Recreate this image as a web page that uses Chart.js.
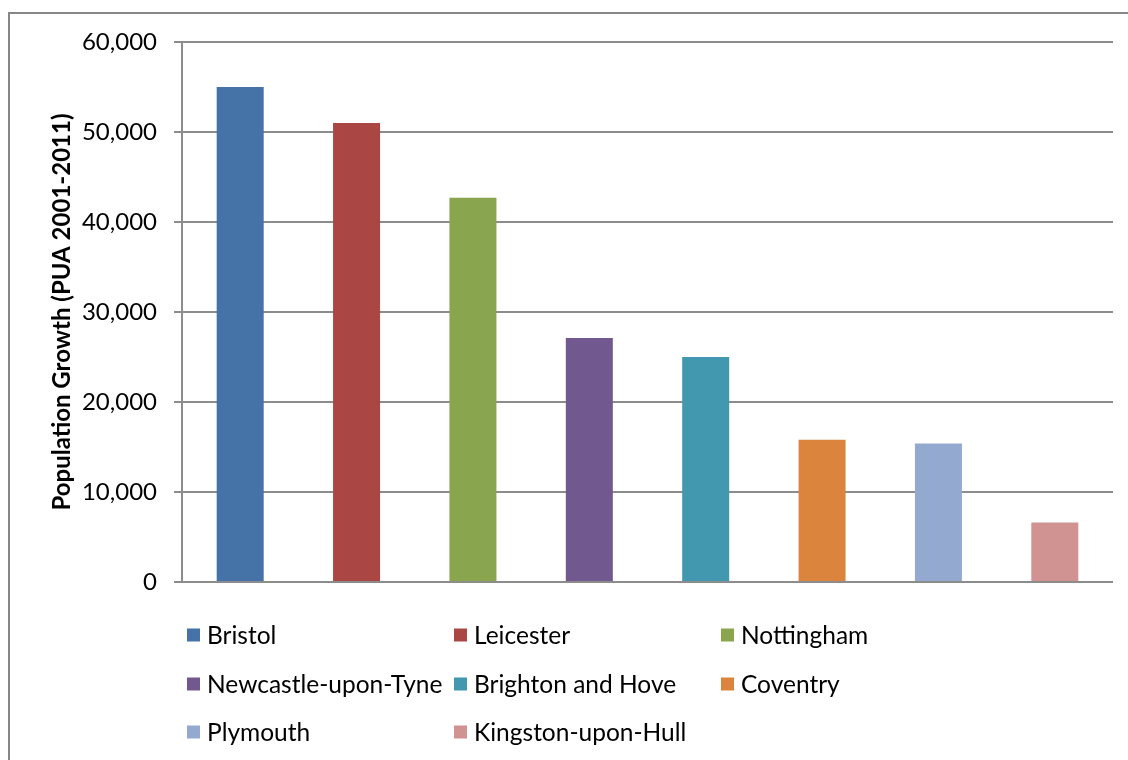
<!DOCTYPE html>
<html>
<head>
<meta charset="utf-8">
<title>Population Growth (PUA 2001-2011)</title>
<script src="https://cdn.jsdelivr.net/npm/chart.js@4/dist/chart.umd.min.js"></script>
<style>
  html, body { margin: 0; padding: 0; background: #ffffff; }
  #wrap { width: 1128px; height: 760px; }
</style>
</head>
<body>
<div id="wrap"><canvas id="chart" width="1128" height="760"></canvas></div>
<script>
// Cities, in the order they appear along the axis and in the legend
const cities = [
  'Bristol', 'Leicester', 'Nottingham',
  'Newcastle-upon-Tyne', 'Brighton and Hove', 'Coventry',
  'Plymouth', 'Kingston-upon-Hull'
];

// Population growth of each primary urban area, 2001-2011
const growth = [55000, 51000, 42700, 27100, 25000, 15800, 15400, 6600];

// One fill per city
const barColors = [
  '#4572A7', '#AA4643', '#89A54E',
  '#71588F', '#4198AF', '#DB843D',
  '#93A9CF', '#D19392'
];

// Value axis ticks
const yTicks = [0, 10000, 20000, 30000, 40000, 50000, 60000];

const axisTitle = 'Population Growth (PUA 2001-2011)';

const FONT = 'Lato';
const GRID = '#8c8c8c';

// White page with the outer frame of the chart object
const framePlugin = {
  id: 'frame',
  beforeDraw(chart) {
    const ctx = chart.ctx;
    ctx.save();
    ctx.fillStyle = '#ffffff';
    ctx.fillRect(0, 0, chart.width, chart.height);
    ctx.strokeStyle = '#878787';
    ctx.lineWidth = 2;
    ctx.strokeRect(9, 13, chart.width + 40, chart.height + 40);
    ctx.restore();
  }
};

// Legend laid out as a three-column grid below the plot
const gridLegendPlugin = {
  id: 'gridLegend',
  afterDraw(chart) {
    const ctx = chart.ctx;
    const labels = chart.data.labels;
    const colors = chart.data.datasets[0].backgroundColor;
    const cols = 3;
    const colX = [187, 454, 721];
    const rowY = [635, 684, 732];
    const box = 13;
    ctx.save();
    ctx.font = '24.5px ' + FONT;
    ctx.textBaseline = 'middle';
    ctx.textAlign = 'left';
    labels.forEach((label, i) => {
      const x = colX[i % cols];
      const y = rowY[Math.floor(i / cols)];
      ctx.fillStyle = colors[i];
      ctx.fillRect(x, y - box / 2, box, box);
      ctx.fillStyle = '#000000';
      ctx.fillText(label, x + 20, y + 1);
    });
    ctx.restore();
  }
};

new Chart(document.getElementById('chart'), {
  type: 'bar',
  data: {
    labels: cities,
    datasets: [{
      label: axisTitle,
      data: growth,
      backgroundColor: barColors,
      borderWidth: 0,
      barPercentage: 0.404,
      categoryPercentage: 1.0
    }]
  },
  options: {
    responsive: false,
    animation: false,
    devicePixelRatio: 1,
    layout: { padding: { top: 42, right: 15, left: 0, bottom: 0 } },
    plugins: {
      legend: { display: false },
      tooltip: { enabled: false }
    },
    scales: {
      x: {
        offset: true,
        grid: { display: false },
        border: { display: false },
        ticks: { display: false },
        afterFit(scale) { scale.height = 178; }
      },
      y: {
        min: yTicks[0],
        max: yTicks[yTicks.length - 1],
        afterBuildTicks(scale) { scale.ticks = yTicks.map(v => ({ value: v })); },
        ticks: {
          padding: 17,
          color: '#000000',
          font: { family: FONT, size: 24 },
          callback: v => Number(v).toLocaleString('en-US')
        },
        grid: {
          color: GRID,
          lineWidth: 2,
          tickLength: 8,
          tickColor: GRID
        },
        border: { display: true, color: GRID, width: 2 },
        title: {
          display: true,
          text: axisTitle,
          color: '#000000',
          font: { family: FONT, size: 24, weight: 'bold' },
          padding: { top: 48, bottom: 0 }
        },
        afterFit(scale) { scale.width = 182; }
      }
    }
  },
  plugins: [framePlugin, gridLegendPlugin]
});
</script>
</body>
</html>
